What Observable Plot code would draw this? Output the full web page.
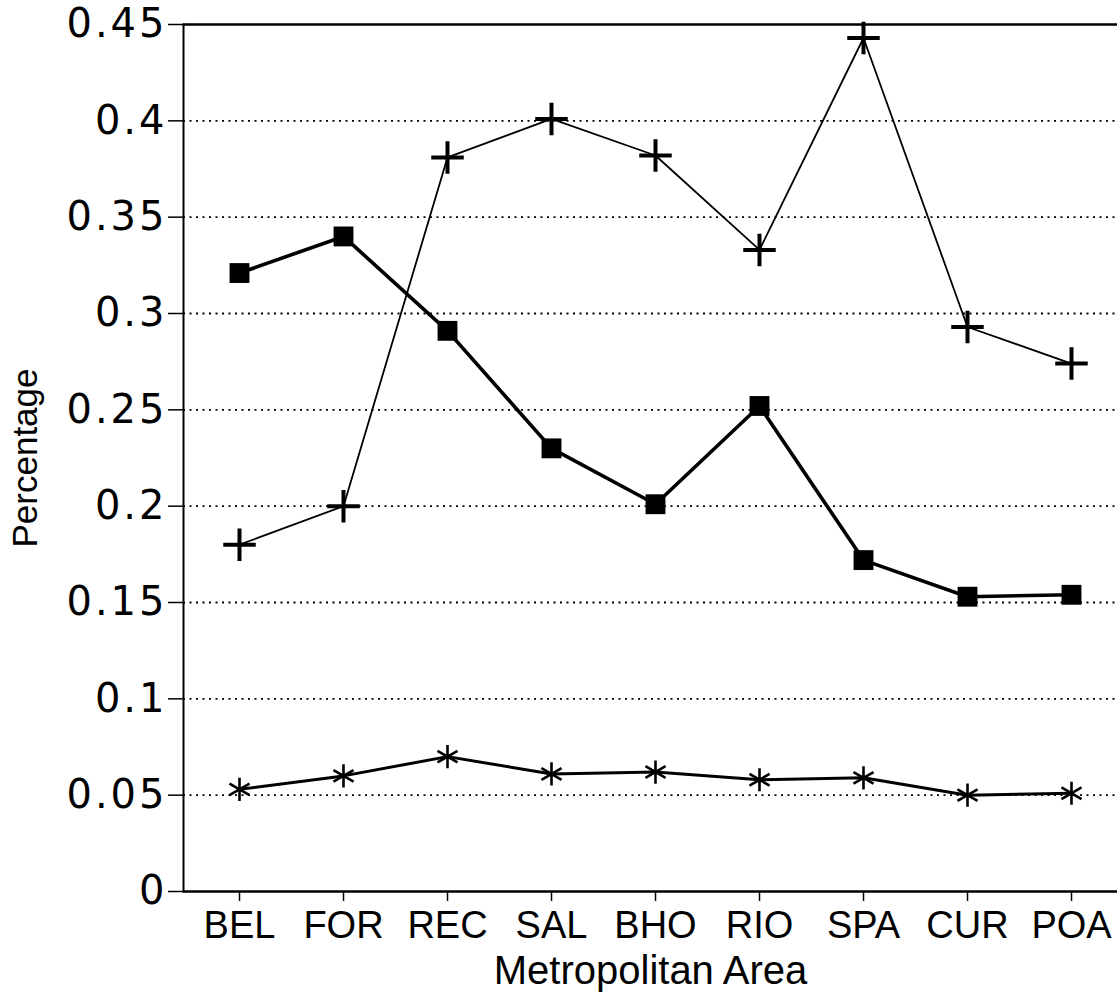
<!DOCTYPE html>
<html>
<head>
<meta charset="utf-8">
<script src="https://cdn.jsdelivr.net/npm/d3@7"></script>
<script src="https://cdn.jsdelivr.net/npm/@observablehq/plot@0.6"></script>
<style>
  html, body { margin: 0; padding: 0; background: #fff; overflow: hidden; }
  #chart svg { display: block; }
  #chart g[aria-label="y-axis tick label"] text { letter-spacing: 3px; }
</style>
</head>
<body>
<div id="chart"></div>
<script>
const areas = ["BEL", "FOR", "REC", "SAL", "BHO", "RIO", "SPA", "CUR", "POA"];
const plusValues = [0.180, 0.200, 0.381, 0.401, 0.382, 0.333, 0.443, 0.293, 0.274];
const squareValues = [0.321, 0.340, 0.291, 0.230, 0.201, 0.252, 0.172, 0.153, 0.154];
const starValues = [0.053, 0.060, 0.070, 0.061, 0.062, 0.058, 0.059, 0.050, 0.051];
const yTicks = [0, 0.05, 0.1, 0.15, 0.2, 0.25, 0.3, 0.35, 0.4, 0.45];
const gridTicks = [0.05, 0.1, 0.15, 0.2, 0.25, 0.3, 0.35, 0.4];
const xTitle = "Metropolitan Area";
const yTitle = "Percentage";

const rows = (vals) => areas.map((a, i) => ({area: a, value: vals[i]}));
const plusData = rows(plusValues);
const squareData = rows(squareValues);
const starData = rows(starValues);

const chart = Plot.plot({
  width: 1117,
  height: 995,
  marginTop: 24,
  marginBottom: 104,
  marginLeft: 183,
  marginRight: 0,
  style: {fontFamily: "'Liberation Sans', Arial, sans-serif", color: "#000", background: "#fff"},
  x: {type: "point", domain: areas, range: [184.8, 1124.2], padding: 0.5},
  y: {domain: [0, 0.45], range: [891, 24]},
  marks: [
    Plot.ruleY(gridTicks, {stroke: "#000", strokeWidth: 1.8, strokeDasharray: "2,4.5"}),
    Plot.ruleY([0], {stroke: "#000", strokeWidth: 2.6}),
    Plot.ruleY([0.45], {stroke: "#000", strokeWidth: 2.4}),
    Plot.frame({anchor: "left", stroke: "#000", strokeWidth: 2}),
    Plot.axisY({ticks: yTicks, tickFormat: d => String(d), tickSize: 15, tickPadding: 1,
      fontSize: 40, fontFamily: "'DejaVu Sans', sans-serif", strokeWidth: 1.5, label: null}),
    Plot.axisX({tickSize: 10, tickPadding: 10, fontSize: 38, strokeWidth: 1.5, label: null}),
    Plot.text([yTitle], {frameAnchor: "left", textAnchor: "middle", dx: -158, rotate: -90, fontSize: 35}),
    Plot.text([xTitle], {frameAnchor: "bottom", dy: 92, lineAnchor: "bottom", fontSize: 40}),
    Plot.line(plusData, {x: "area", y: "value", stroke: "#000", strokeWidth: 1.8}),
    Plot.line(squareData, {x: "area", y: "value", stroke: "#000", strokeWidth: 3.6}),
    Plot.line(starData, {x: "area", y: "value", stroke: "#000", strokeWidth: 3}),
    Plot.dot(plusData, {x: "area", y: "value", symbol: "plus", r: 10.5, stroke: "#000", strokeWidth: 4, fill: "none"}),
    Plot.dot(squareData, {x: "area", y: "value", symbol: "square", r: 11.2, fill: "#000", stroke: "none"}),
    Plot.dot(starData, {x: "area", y: "value", symbol: "asterisk", r: 11, stroke: "#000", strokeWidth: 2.6, fill: "none"})
  ]
});
document.getElementById("chart").appendChild(chart);
</script>
</body>
</html>
